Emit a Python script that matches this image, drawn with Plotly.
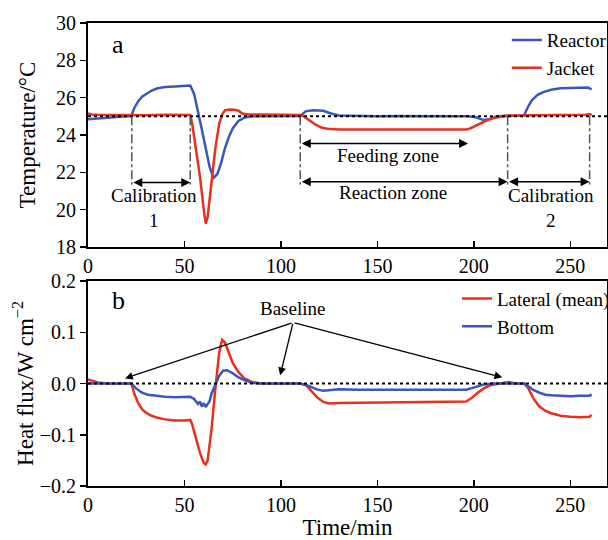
import plotly.graph_objects as go
from plotly.subplots import make_subplots

# ---------------- data ----------------
reactor_t = [0, 5, 10, 15, 20, 22.5, 24, 26, 28, 30, 33, 36, 40, 45, 50, 53,
             55, 57, 59, 61, 63, 65, 67, 69, 71, 73, 75, 78, 81, 85, 90,
             100, 110, 113, 117, 122, 126, 130, 140, 150, 160, 170, 180, 190, 197,
             201, 205, 208, 212, 218, 225, 226, 228, 230, 233, 236, 240, 245, 250,
             255, 259, 261]
reactor_T = [24.85, 24.9, 24.95, 24.97, 25.0, 25.02, 25.45, 25.8, 26.05, 26.2, 26.38,
             26.5, 26.57, 26.6, 26.65, 26.65,
             26.2, 25.3, 24.3, 23.3, 22.3, 21.7, 21.9, 22.5, 23.3, 23.9, 24.35, 24.75,
             24.93, 25.0, 25.0,
             25.0, 25.02, 25.28, 25.32, 25.3, 25.15, 25.05, 25.02, 25.0, 25.02, 25.0,
             25.02, 25.0, 25.0,
             24.95, 24.8, 24.85, 25.0, 25.02, 25.02, 25.05, 25.5, 25.85, 26.15, 26.3,
             26.42, 26.5, 26.52, 26.55, 26.55, 26.45]

jacket_t = [0, 2, 5, 10, 20, 30, 40, 50, 53, 54, 56, 58, 60, 61, 62, 64, 66, 68,
            69.5, 71, 73, 76, 78, 80, 83, 90, 100, 110, 112, 115, 118, 121, 124,
            130, 150, 170, 185, 190, 196, 198, 201, 204, 207, 210, 213, 216, 220,
            230, 240, 250, 258, 260, 261]
jacket_T = [25.15, 25.1, 25.08, 25.07, 25.07, 25.06, 25.08, 25.07, 25.07, 24.6, 23.3,
            21.8, 20.0, 19.25, 19.6, 21.5, 23.3, 24.6, 25.1, 25.32, 25.36, 25.35,
            25.3, 25.15, 25.1, 25.1, 25.1, 25.07, 24.98, 24.75, 24.55, 24.4, 24.33,
            24.3, 24.3, 24.3, 24.32, 24.3, 24.3, 24.35, 24.5, 24.65, 24.8, 24.9,
            24.98, 25.03, 25.05, 25.05, 25.05, 25.05, 25.08, 25.12, 25.05]

lateral_t = [0, 2, 5, 10, 15, 20, 22.5, 24, 26, 28, 30, 33, 36, 40, 45, 50, 53, 54,
             56, 58, 60, 61, 62, 64, 66, 68, 69.5, 71, 73, 75, 78, 81, 85, 90, 100,
             110, 113, 116, 119, 122, 125, 130, 150, 170, 190, 196, 199, 202, 205,
             208, 212, 218, 222, 226, 228, 231, 234, 237, 240, 245, 250, 255, 260, 261]
lateral_q = [0.008, 0.006, 0.002, 0.0, 0.0, 0.0, 0.0, -0.02, -0.038, -0.05, -0.057,
             -0.063, -0.067, -0.07, -0.072, -0.072, -0.071, -0.08, -0.11, -0.135,
             -0.155, -0.158, -0.15, -0.09, -0.01, 0.06, 0.085, 0.08, 0.06, 0.04,
             0.022, 0.01, 0.003, 0.0, 0.0, 0.0, -0.003, -0.015, -0.028, -0.036,
             -0.039, -0.038, -0.037, -0.036, -0.036, -0.035, -0.028, -0.018, -0.01,
             -0.004, -0.001, 0.003, 0.0, 0.0, -0.008, -0.03, -0.045, -0.053, -0.058,
             -0.063, -0.065, -0.066, -0.065, -0.061]

bottom_t = [0, 10, 20, 22.5, 25, 28, 31, 35, 40, 45, 50, 53, 55, 57, 58, 59, 60, 61,
            62, 63, 64, 66, 68, 70, 72, 75, 78, 82, 86, 90, 100, 110, 113, 116, 119,
            122, 126, 130, 140, 150, 160, 170, 180, 190, 196, 199, 202, 205, 210,
            220, 226, 228, 231, 234, 237, 240, 245, 250, 255, 260, 261]
bottom_q = [0.0, 0.0, 0.0, 0.0, -0.01, -0.018, -0.022, -0.024, -0.026, -0.027,
            -0.027, -0.026, -0.03, -0.04, -0.035, -0.045, -0.038, -0.046, -0.04,
            -0.035, -0.02, -0.002, 0.015, 0.025, 0.026, 0.02, 0.012, 0.005, 0.001,
            0.0, 0.0, 0.0, -0.003, -0.008, -0.012, -0.014, -0.013, -0.011, -0.012,
            -0.012, -0.011, -0.012, -0.012, -0.011, -0.012, -0.009, -0.005, -0.002,
            0.0, 0.0, 0.0, -0.005, -0.013, -0.018, -0.022, -0.023, -0.024, -0.025,
            -0.024, -0.024, -0.021]

# zone markers (time, min)
zone_bounds = [22.7, 53, 110, 217.5, 260]
setpoint_T = 25.0

x_ticks = [0, 50, 100, 150, 200, 250]
temp_ticks = [18, 20, 22, 24, 26, 28, 30]
flux_ticks = [-0.2, -0.1, 0.0, 0.1, 0.2]
flux_tick_text = ["\u22120.2", "\u22120.1", "0.0", "0.1", "0.2"]

BLUE = "#3a55c0"
RED = "#e8301c"
FONT = "Liberation Serif, Times New Roman, DejaVu Serif, serif"

fig = make_subplots(rows=2, cols=1, shared_xaxes=False, vertical_spacing=0.07)

fig.add_trace(go.Scatter(x=reactor_t, y=reactor_T, mode="lines", name="Reactor",
                         line=dict(color=BLUE, width=2.5), legend="legend"), row=1, col=1)
fig.add_trace(go.Scatter(x=jacket_t, y=jacket_T, mode="lines", name="Jacket",
                         line=dict(color=RED, width=2.5), legend="legend"), row=1, col=1)
fig.add_trace(go.Scatter(x=lateral_t, y=lateral_q, mode="lines", name="Lateral (mean)",
                         line=dict(color=RED, width=2.5), legend="legend2"), row=2, col=1)
fig.add_trace(go.Scatter(x=bottom_t, y=bottom_q, mode="lines", name="Bottom",
                         line=dict(color=BLUE, width=2.5), legend="legend2"), row=2, col=1)

# dotted reference lines
fig.add_shape(type="line", xref="x domain", yref="y", x0=0, x1=1, y0=setpoint_T,
              y1=setpoint_T, line=dict(color="black", width=2, dash="dot"), layer="above")
fig.add_shape(type="line", xref="x2 domain", yref="y2", x0=0, x1=1, y0=0, y1=0,
              line=dict(color="black", width=2, dash="dot"), layer="above")

# dash-dot zone boundaries
for t in zone_bounds:
    fig.add_shape(type="line", xref="x", yref="y", x0=t, x1=t, y0=setpoint_T, y1=21.35,
                  line=dict(color="#555555", width=1.5, dash="dashdot"))

def double_arrow(x0, x1, y, xref="x", yref="y"):
    fig.add_annotation(x=x1, y=y, ax=x0, ay=y, xref=xref, yref=yref, axref=xref,
                       ayref=yref, text="", showarrow=True, arrowhead=2, arrowsize=1.2,
                       arrowwidth=1.5, arrowcolor="black", arrowside="end+start",
                       standoff=0, startstandoff=0)

double_arrow(zone_bounds[0], zone_bounds[1], 21.45)
double_arrow(zone_bounds[2], 197, 23.55)
double_arrow(zone_bounds[2], zone_bounds[3], 21.5)
double_arrow(zone_bounds[3], zone_bounds[4], 21.5)

txt = dict(family=FONT, size=19, color="black")
fig.add_annotation(x=34, y=20.1, text="Calibration<br>1", showarrow=False, font=txt,
                   xref="x", yref="y")
fig.add_annotation(x=155.5, y=22.9, text="Feeding zone", showarrow=False, font=txt,
                   xref="x", yref="y")
fig.add_annotation(x=158, y=20.9, text="Reaction zone", showarrow=False, font=txt,
                   xref="x", yref="y")
fig.add_annotation(x=240, y=20.1, text="Calibration<br>2", showarrow=False, font=txt,
                   xref="x", yref="y")

fig.add_annotation(x=15.6, y=28.86, text="a", showarrow=False, xref="x", yref="y",
                   font=dict(family=FONT, size=26, color="black"))
fig.add_annotation(x=15.6, y=0.162, text="b", showarrow=False, xref="x2", yref="y2",
                   font=dict(family=FONT, size=26, color="black"))

# Baseline annotation with three arrows
fig.add_annotation(x=106, y=0.146, text="Baseline", showarrow=False, xref="x2",
                   yref="y2", font=txt)
for hx, hy in [(19.2, 0.01), (99.6, 0.016), (214.7, 0.012)]:
    fig.add_annotation(x=hx, y=hy, ax=106.3, ay=0.119, xref="x2", yref="y2",
                       axref="x2", ayref="y2", text="", showarrow=True, arrowhead=2,
                       arrowsize=1.2, arrowwidth=1.3, arrowcolor="black", standoff=0)

axis_common = dict(showline=True, linecolor="black", linewidth=2, mirror=True,
                   showgrid=False, zeroline=False, ticklen=6, tickwidth=1.5,
                   tickcolor="black", automargin=False,
                   tickfont=dict(family=FONT, size=20, color="black"))

fig.update_xaxes(range=[0, 269], tickvals=x_ticks, ticks="inside", **axis_common)
fig.update_xaxes(title_text="Time/min", title_font=dict(family=FONT, size=23, color="black"),
                 title_standoff=6, row=2, col=1)
fig.update_yaxes(range=[18, 30], tickvals=temp_ticks, ticks="outside",
                 title_text="Temperature/\u00b0C", title_standoff=14,
                 title_font=dict(family=FONT, size=23, color="black"),
                 row=1, col=1, **axis_common)
fig.update_yaxes(range=[-0.2, 0.2], tickvals=flux_ticks, ticktext=flux_tick_text,
                 ticks="outside", title_text="Heat flux/W cm<sup>\u22122</sup>",
                 title_standoff=0,
                 title_font=dict(family=FONT, size=23, color="black"),
                 row=2, col=1, **axis_common)

fig.update_layout(
    width=608, height=540,
    margin=dict(l=88, r=1, t=23, b=54, autoexpand=False),
    paper_bgcolor="white", plot_bgcolor="white",
    font=dict(family=FONT, size=19, color="black"),
    xaxis=dict(domain=[0, 1]),
    yaxis=dict(domain=[1 - 224 / 463, 1]),
    xaxis2=dict(domain=[0, 1]),
    yaxis2=dict(domain=[0, 205 / 463]),
    legend=dict(x=0.807, y=1.004, xanchor="left", yanchor="top",
                bgcolor="rgba(0,0,0,0)", font=dict(family=FONT, size=19),
                itemwidth=30, tracegroupgap=0),
    legend2=dict(x=0.711, y=0.4455, xanchor="left", yanchor="top",
                 bgcolor="rgba(0,0,0,0)", font=dict(family=FONT, size=19),
                 itemwidth=30, tracegroupgap=0),
    showlegend=True,
    hovermode=False,
)

# remove the default 8px page margin so the 608x540 figure fills the window
fig.write_html("out.html",
               config={"displayModeBar": False, "staticPlot": True},
               post_script="document.body.style.margin='0';"
                           "document.body.style.overflow='hidden';")
